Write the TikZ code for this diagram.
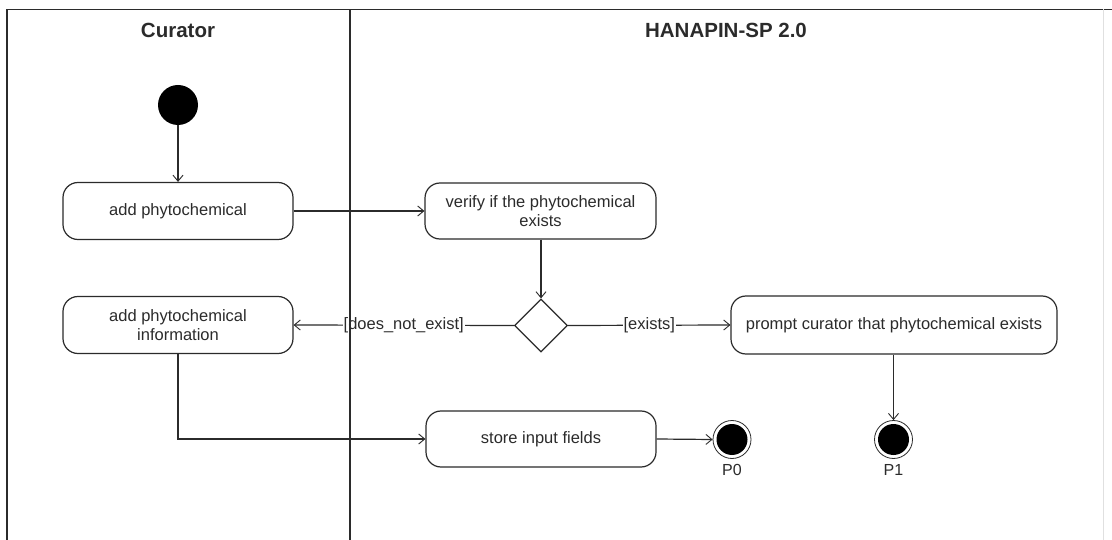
\documentclass[tikz,border=0pt]{standalone}
\usepackage{fontspec}
\setmainfont{Liberation Sans}
\usetikzlibrary{shapes.geometric,arrows.meta}
\definecolor{ink}{HTML}{2B2B2B}
\tikzset{
  act/.style={draw=ink, line width=1.2pt, rounded corners=15pt, minimum width=230pt, minimum height=57pt, align=center, text=ink, font=\fontsize{16.5}{19.5}\selectfont, inner sep=2pt},
  flow/.style={draw=ink, line width=1.2pt, -{Straight Barb[length=6pt,width=10pt,line width=0.9pt]}},
  guard/.style={fill=white, text=ink, font=\fontsize{16.5}{19.5}\selectfont, inner sep=1pt},
  lane/.style={draw=ink, line width=1.5pt},
  endnode/.style={circle, draw=ink, line width=0.8pt, minimum size=38pt, inner sep=0pt,
    path picture={\fill[black] (path picture bounding box.center) circle (15.5pt);}},
  head/.style={text=ink, font=\bfseries\fontsize{20.5}{24}\selectfont}
}
\begin{document}
\begin{tikzpicture}[x=1pt,y=-1pt]
\useasboundingbox[fill=white] (0,0) rectangle (1112,540);
% headers
\node[head] (hcur) at (178,30) {Curator};
\node[head] (hsys) at (726,30) {HANAPIN-SP 2.0};
% nodes
\node[circle, fill=black, minimum size=40pt, inner sep=0pt] (init) at (178,105) {};
\node[act] (addp) at (178,211) {add phytochemical};
\node[act, minimum width=231pt, minimum height=56pt] (verify) at (540.5,211) {verify if the phytochemical\\exists};
\node[draw=ink, line width=1.2pt, diamond, aspect=1, minimum width=53pt, minimum height=53pt, inner sep=0pt] (dec) at (541,325.5) {};
\node[act] (addinfo) at (178,325) {add phytochemical\\information};
\node[act, minimum width=326pt, minimum height=58pt] (prompt) at (894,325) {prompt curator that phytochemical exists};
\node[act, minimum width=230pt, minimum height=56pt] (store) at (541,439) {store input fields};
\node[endnode, label={[text=ink, font=\fontsize{16}{18}\selectfont, label distance=2pt]below:P0}] (p0) at (732,439.5) {};
\node[endnode, label={[text=ink, font=\fontsize{16}{18}\selectfont, label distance=2pt]below:P1}] (p1) at (893.5,439.5) {};
% connectors
\draw[flow] (init) -- (addp);
\draw[flow] (addp) -- (verify);
\draw[flow] (verify.south -| dec.north) -- (dec.north);
\draw[flow] (dec.west) -- node[guard, pos=0.5] (lbl1) {[does\_not\_exist]} (addinfo.east);
\draw[flow] (dec.east) -- node[guard, pos=0.5] (lbl2) {[exists]} (prompt.west);
\draw[flow] (prompt.south -| p1.north) -- (p1.north);
\draw[flow] (addinfo.south) |- (store.west);
\draw[flow] (store.east) -- (p0.west);
% swimlanes
\coordinate (tl) at (7,9.5);
\coordinate (tr) at (1112,9.5);
\coordinate (bl) at (7,540);
\coordinate (dt) at (350,9.5);
\coordinate (db) at (350,540);
\coordinate (rt) at (1103.5,9.5);
\coordinate (rb) at (1103.5,540);
\draw[lane] (bl) -- (tl) -- (tr);
\draw[lane] (dt) -- (db);
\draw[draw=black!12, line width=1.2pt] (rt) -- (rb);
\end{tikzpicture}
\end{document}
